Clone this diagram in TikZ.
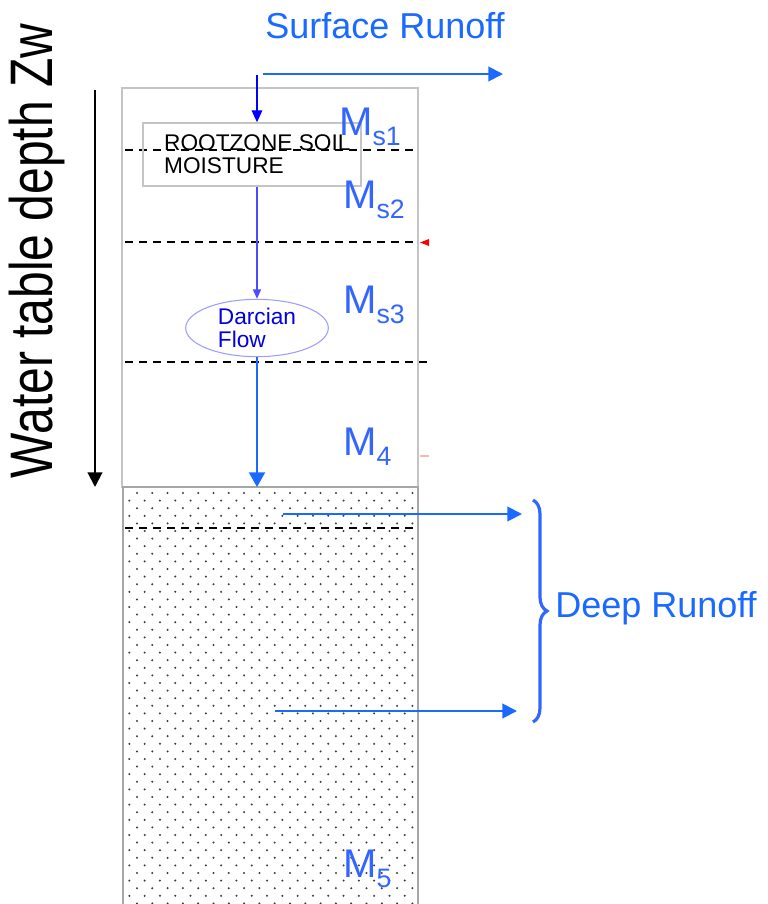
\documentclass[tikz,border=0pt]{standalone}
\usepackage{fontspec}
\setmainfont{Liberation Sans}
\usepackage{tikz}
\usetikzlibrary{calc,arrows.meta,shapes.geometric,decorations.pathreplacing}
\definecolor{runoff}{HTML}{1A6AFF}
\definecolor{mblue}{HTML}{3366FF}
\definecolor{dropblue}{HTML}{0000FF}
\definecolor{thinblue}{HTML}{4C4CFF}
\definecolor{ellblue}{HTML}{9D9DFF}
\definecolor{darcytext}{HTML}{0000E0}
\definecolor{boxgray}{HTML}{C4C4C4}
\definecolor{sandgray}{HTML}{A4A8A4}
\definecolor{dotgray}{HTML}{3C3C3C}
\definecolor{marker}{HTML}{FF0000}
\definecolor{pinkmark}{HTML}{FFB4B4}
\newcommand{\msub}[1]{M\raisebox{-7.5pt}{\fontsize{20}{20}\selectfont #1}}
\tikzset{
  layerline/.style={black, line width=1.1pt, dash pattern=on 6pt off 4.5pt},
  mlabel/.style={text=mblue, font=\fontsize{30}{36}\selectfont, anchor=base west, inner sep=0pt},
  bigtext/.style={text=runoff, font=\fontsize{27}{32}\selectfont, anchor=base west, inner sep=0pt},
  runoffarrow/.style={draw=runoff, line width=1.5pt, -{Triangle[length=11pt,width=11pt]}},
  rootbox/.style={draw=boxgray, line width=1.1pt, minimum width=163.5pt, minimum height=47.25pt,
    align=left, font=\fontsize{17}{17.25}\selectfont, inner sep=0pt},
  darcybox/.style={ellipse, draw=ellblue, line width=0.8pt, minimum width=107pt, minimum height=43pt,
    align=left, text=darcytext, font=\fontsize{17}{17.25}\selectfont, inner sep=0pt}
}

\begin{document}
\begin{tikzpicture}[x=0.75pt, y=-0.75pt]
\useasboundingbox (0,0) rectangle (768,904);
% soil column
\draw[boxgray, line width=1.5pt] (122,88) rectangle (418,487);
\coordinate (sandtop) at (255,487);
\begin{scope}
  \clip (123,487) rectangle (418,910);
  \foreach \j in {0,...,55}{
    \pgfmathsetmacro\dy{493+7.6*\j}
    \pgfmathsetmacro\dx{137-7.65*mod(\j,2)}
    \foreach \i in {0,...,18}{
      \fill[dotgray] (\dx+15.3*\i,\dy) circle[radius=0.85pt];
    }
  }
\end{scope}
\draw[sandgray, line width=1.5pt] (123,910) -- (123,487) -- (418,487) -- (418,910);
% layer boundaries
\draw[layerline] (125,150) -- (414,150);
\draw[layerline] (125,242) -- (416,242);
\draw[layerline] (125,362) -- (427,362);
\draw[layerline] (125,528) -- (415,528);
\fill[marker] (420,242.5) -- (429,239) -- (429,246) -- cycle;
\draw[pinkmark, line width=1pt] (420,456) -- (429,456);
% boxes
\node[rootbox] (rootzone) at (252,154.5) {\hspace*{8pt}ROOTZONE SOIL\\\hspace*{8pt}MOISTURE};
\node[darcybox] (darcy) at (257,328) {Darcian\\Flow};
% layer labels
\node[mlabel] (ms1) at (339,135) {\msub{s1}};
\node[mlabel] (ms2) at (343,208) {\msub{s2}};
\node[mlabel] (ms3) at (343,313) {\msub{s3}};
\node[mlabel] (m4) at (343,455) {\msub{4}};
\node[mlabel] (m5) at (343,877) {\msub{5}};
% surface runoff
\node[bigtext] (srtext) at (265,38) {Surface Runoff};
\coordinate (srstart) at (263,74);
\coordinate (srend) at (503,74);
\coordinate (srdrop) at (257,75);
\draw[runoffarrow] (srstart) -- (srend);
\draw[dropblue, line width=1pt, -{Triangle[length=9pt,width=8pt]}] (srdrop) -- (srdrop |- rootzone.north);
\draw[thinblue, line width=0.9pt, -{Triangle[length=7pt,width=6pt]}] (rootzone.south -| darcy.north) -- (darcy.north);
\draw[runoff, line width=1.5pt, -{Triangle[length=11pt,width=12pt]}] (darcy.south) -- (darcy.south |- sandtop);
% water table depth
\coordinate (zwtop) at (95,90);
\coordinate (zwbot) at (95,487);
\draw[black, line width=1.5pt, -{Triangle[length=11pt,width=11pt]}] (zwtop) -- (zwbot);
\node[rotate=90, anchor=base, inner sep=0pt, font=\fontsize{45}{50}\selectfont] (zwtext) at (52,251)
  {\scalebox{0.8}[1]{Water table depth Zw}};
% deep runoff
\coordinate (dra) at (283,514);
\coordinate (drb) at (522,514);
\coordinate (drc) at (275,711);
\coordinate (drd) at (517,711);
\draw[runoffarrow] (dra) -- (drb);
\draw[runoffarrow] (drc) -- (drd);
\coordinate (bracetop) at (533,500);
\coordinate (bracebot) at (533,722);
\draw[mblue, line width=2.4pt, decorate, decoration={brace, amplitude=10.5pt, aspect=0.5}] (bracetop) -- (bracebot);
\node[bigtext] (drtext) at (555,617) {Deep Runoff};
\end{tikzpicture}
\end{document}
